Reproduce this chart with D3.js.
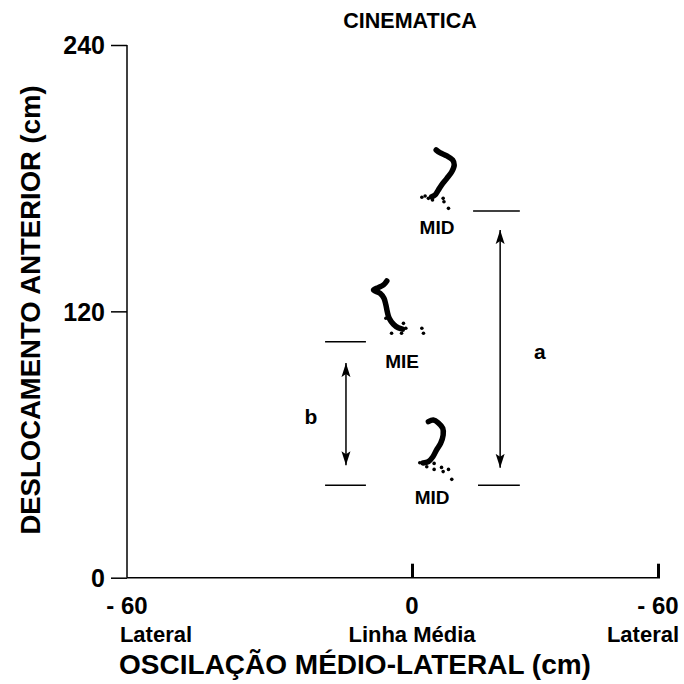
<!DOCTYPE html>
<html>
<head>
<meta charset="utf-8">
<script src="https://cdn.jsdelivr.net/npm/d3@7"></script>
<style>
  html, body { margin: 0; padding: 0; background: #fff; }
  text { font-family: "Liberation Sans", Arial, sans-serif; font-weight: bold; fill: #000; }
</style>
</head>
<body>
<svg id="chart" width="684" height="684"></svg>
<script>
// Axis ticks
const xTicks = [-60, 0, 60];
const xTickLabels = ["- 60", "0", "- 60"];
const xSideLabels = ["Lateral", "Linha Média", "Lateral"];
const yTicks = [0, 120, 240];

// Trajectories (x: medio-lateral cm, y: anterior displacement cm)
const midUpperPath = [[5.9,192.7],[6.8,191.5],[8.5,190.0],[9.9,188.2],[10.3,186.0],[9.7,182.9],[8.5,179.9],[7.2,176.9],[6.4,174.6],[5.6,172.4],[4.8,171.6]];
const midUpperDots = [[2.4,171.4],[3.2,172.0],[4.0,170.9],[5.0,170.2],[7.6,170.9],[7.8,169.4],[8.9,166.4]];

const miePath = [[-5.3,133.7],[-6.0,131.9],[-7.1,130.7],[-8.1,129.6],[-6.7,128.1],[-5.9,125.9],[-5.5,122.9],[-5.2,119.8],[-4.8,116.9],[-3.9,114.2],[-2.9,112.6],[-2.0,112.0]];
const mieDots = [[-1.8,114.6],[-1.3,112.4],[-4.3,110.1],[-2.2,110.1],[2.4,112.4],[2.8,110.1],[-5.5,116.9]];

const midLowerPath = [[4.0,70.3],[5.2,71.0],[6.4,69.8],[7.5,67.3],[7.6,64.3],[7.0,60.6],[6.0,57.6],[5.1,54.5],[4.0,52.3],[2.7,51.7]];
const midLowerDots = [[1.9,51.8],[3.6,50.0],[5.4,51.5],[5.4,48.8],[7.2,49.7],[7.6,47.8],[8.9,48.8],[9.7,44.3]];

// Reference segments [x1, x2, y]
const refLines = [[14.9,26.3,165.2],[16.1,26.3,41.7],[-18.3,-9.7,106.3],[-18.3,-9.7,41.7]];
// Distance arrows [x, yTop, yBottom]
const arrows = [[21.5,156.6,49.5],[-13.9,96.7,50.7]];
const arrowNames = ["a", "b"];
const arrowLabelPos = [[31.2,101.7],[-21.3,72.4]];

const trackNames = ["MID", "MIE", "MID"];
const trackLabelPos = [[6.1,158.0],[-2.1,97.6],[4.9,36.4]];

const svg = d3.select("#chart");

const x = d3.scaleLinear().domain([-60, 0, 60]).range([127, 412, 658]);
const y = d3.scaleLinear().domain([0, 240]).range([577.7, 45]);

// Arrowhead marker
const defs = svg.append("defs");
["start", "end"].forEach(k => {
  defs.append("marker")
    .attr("id", "ah-" + k)
    .attr("viewBox", "0 0 14 10")
    .attr("refX", 14).attr("refY", 5)
    .attr("markerWidth", 14).attr("markerHeight", 10)
    .attr("markerUnits", "userSpaceOnUse")
    .attr("orient", k === "start" ? "auto-start-reverse" : "auto")
    .append("path")
    .attr("d", "M0,0.5 L14,5 L0,9.5 L3,5 Z")
    .attr("fill", "#000");
});

// Y axis
const yAxis = d3.axisLeft(y).tickValues(yTicks).tickSize(16).tickPadding(6).tickFormat(d3.format("d"));
const gy = svg.append("g").attr("transform", "translate(127,0)").call(yAxis);
gy.select(".domain").attr("d", `M0,${y(240)}V${y(0)}`).attr("stroke", "#000").attr("stroke-width", 1.5);
gy.selectAll(".tick line").attr("stroke", "#000").attr("stroke-width", 1.5);
gy.selectAll(".tick text").style("font-size", "25px").attr("dy", "0.35em");

// X axis
const xAxis = d3.axisTop(x).tickValues(xTicks).tickSize(14).tickFormat("");
const gx = svg.append("g").attr("transform", `translate(0,${y(0)})`).call(xAxis);
gx.select(".domain").attr("d", `M${x(-60)},0H${x(60) + 2}`).attr("stroke", "#000").attr("stroke-width", 1.5);
gx.selectAll(".tick line").attr("stroke", "#000").attr("stroke-width", 3)
  .filter(d => d === -60).remove();

// X tick labels and side labels
svg.append("g").selectAll("text").data(xTicks).join("text")
  .attr("x", d => x(d)).attr("y", 614)
  .attr("text-anchor", "middle").style("font-size", "24px")
  .text((d, i) => xTickLabels[i]);
svg.append("g").selectAll("text").data(xTicks).join("text")
  .attr("x", (d, i) => i === 0 ? 156 : i === 1 ? x(d) : 643).attr("y", 642)
  .attr("text-anchor", "middle").style("font-size", "22px")
  .text((d, i) => xSideLabels[i]);

// Axis titles
svg.append("text").attr("x", 355).attr("y", 674).attr("text-anchor", "middle")
  .style("font-size", "28px").text("OSCILAÇÃO MÉDIO-LATERAL (cm)");
svg.append("text").attr("transform", "translate(40,310) rotate(-90)").attr("text-anchor", "middle")
  .style("font-size", "27.5px").text("DESLOCAMENTO ANTERIOR (cm)");
svg.append("text").attr("x", 410).attr("y", 28).attr("text-anchor", "middle")
  .style("font-size", "21.5px").text("CINEMATICA");

// Trajectories
const line = d3.line().x(d => x(d[0])).y(d => y(d[1])).curve(d3.curveCatmullRom);
[midUpperPath, miePath, midLowerPath].forEach(p => {
  svg.append("path").datum(p).attr("d", line)
    .attr("fill", "none").attr("stroke", "#000").attr("stroke-width", 5.5)
    .attr("stroke-linejoin", "round").attr("stroke-linecap", "round");
});
[midUpperDots, mieDots, midLowerDots].forEach(ds => {
  svg.append("g").selectAll("circle").data(ds).join("circle")
    .attr("cx", d => x(d[0])).attr("cy", d => y(d[1])).attr("r", 1.8).attr("fill", "#000");
});

// Track labels
svg.append("g").selectAll("text").data(trackNames).join("text")
  .attr("x", (d, i) => x(trackLabelPos[i][0])).attr("y", (d, i) => y(trackLabelPos[i][1]))
  .attr("text-anchor", "middle").attr("dy", "0.35em").style("font-size", "19px")
  .text(d => d);

// Reference segments
svg.append("g").selectAll("line").data(refLines).join("line")
  .attr("x1", d => x(d[0])).attr("x2", d => x(d[1]))
  .attr("y1", d => y(d[2])).attr("y2", d => y(d[2]))
  .attr("stroke", "#000").attr("stroke-width", 1.5);

// Arrows
svg.append("g").selectAll("line").data(arrows).join("line")
  .attr("x1", d => x(d[0])).attr("x2", d => x(d[0]))
  .attr("y1", d => y(d[1])).attr("y2", d => y(d[2]))
  .attr("stroke", "#000").attr("stroke-width", 1.5)
  .attr("marker-start", "url(#ah-start)").attr("marker-end", "url(#ah-end)");
svg.append("g").selectAll("text").data(arrowNames).join("text")
  .attr("x", (d, i) => x(arrowLabelPos[i][0])).attr("y", (d, i) => y(arrowLabelPos[i][1]))
  .attr("text-anchor", "middle").attr("dy", "0.35em").style("font-size", "21px")
  .text(d => d);
</script>
</body>
</html>
